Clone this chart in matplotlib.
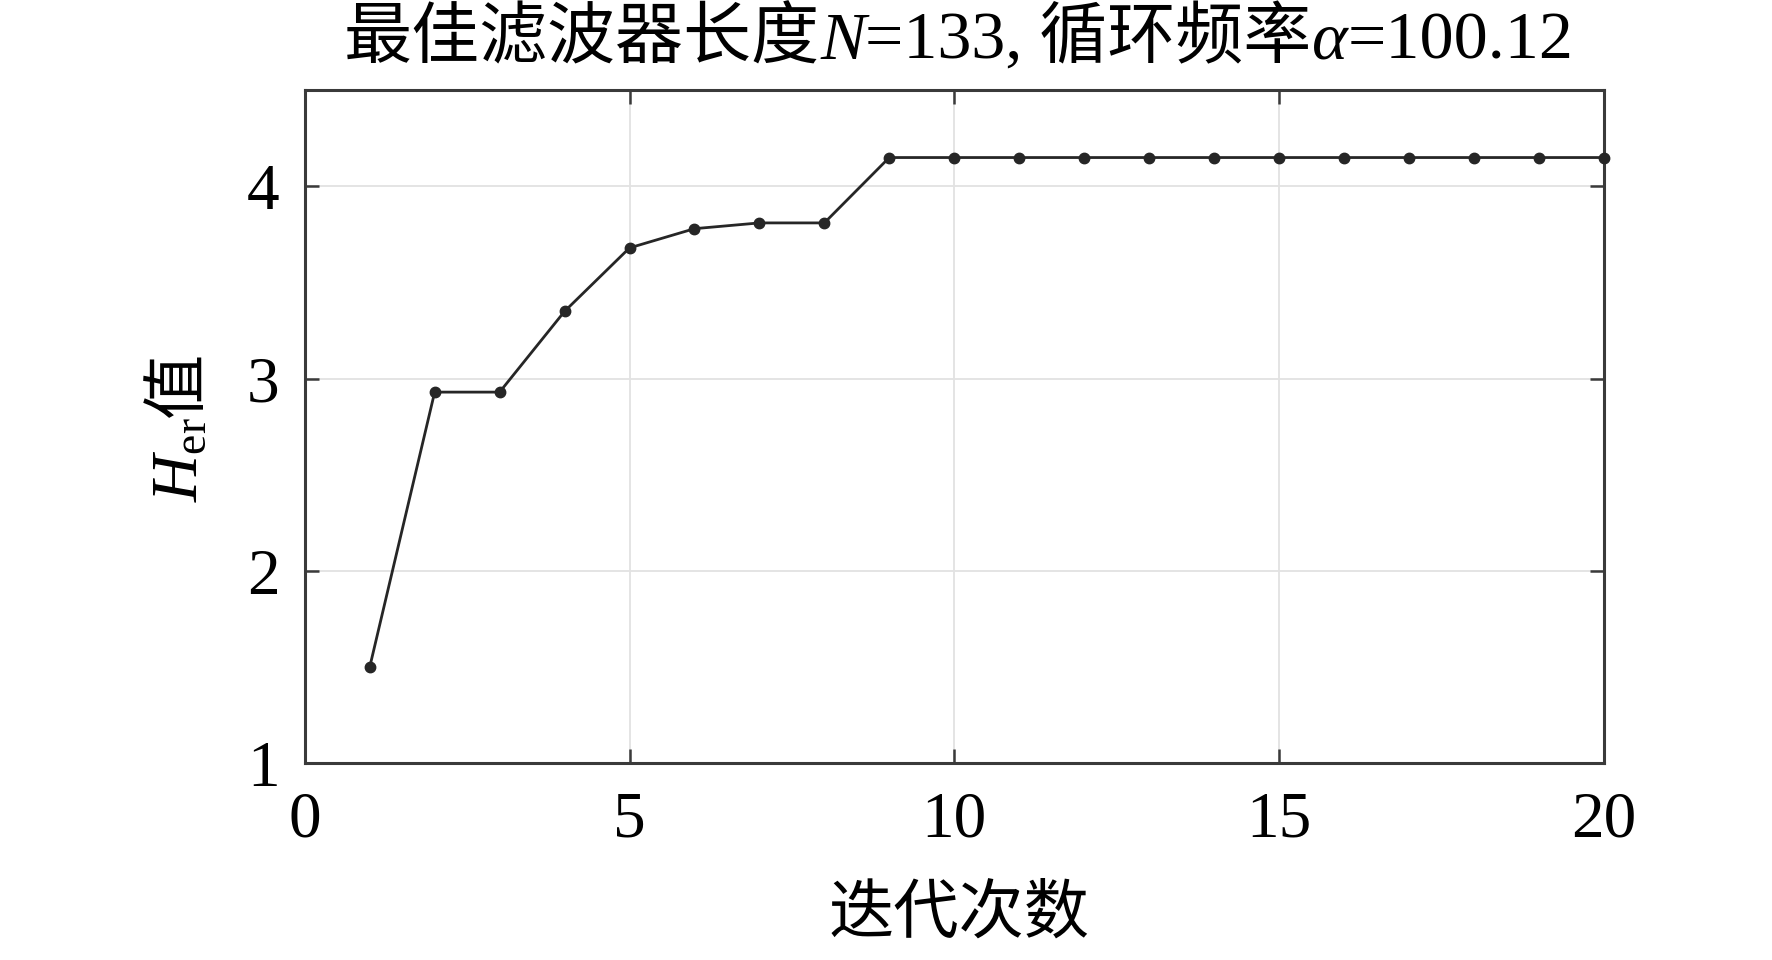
import matplotlib
matplotlib.use('Agg')
import matplotlib.pyplot as plt

# iteration data
iterations = list(range(1, 21))
her_values = [1.50, 2.93, 2.93, 3.35, 3.68, 3.78, 3.81, 3.81, 4.15, 4.15,
              4.15, 4.15, 4.15, 4.15, 4.15, 4.15, 4.15, 4.15, 4.15, 4.15]
x_ticks = [0, 5, 10, 15, 20]
y_ticks = [1, 2, 3, 4]

plt.rcParams['font.family'] = ['Liberation Serif', 'Noto Sans CJK SC']
plt.rcParams['mathtext.fontset'] = 'custom'
plt.rcParams['mathtext.rm'] = 'Liberation Serif'
plt.rcParams['mathtext.it'] = 'Liberation Serif:italic'

FS = 47
DARK = '#262626'


def rich_text(fig, x, y, parts, rotation=0, size=FS):
    """Place text pieces one after another, centred on (x, y) along the run."""
    renderer = fig.canvas.get_renderer()
    texts = []
    for s, style in parts:
        t = fig.text(0, 0, s, fontsize=size, fontstyle=style, rotation=rotation,
                     rotation_mode='anchor', ha='left', va='baseline')
        texts.append(t)
    ext = [t.get_window_extent(renderer) for t in texts]
    px, py = fig.transFigure.transform((x, y))
    inv = fig.transFigure.inverted()
    if rotation == 0:
        total = sum(b.width for b in ext)
        pos = px - total / 2
        for t, b in zip(texts, ext):
            t.set_position(inv.transform((pos, py)))
            pos += b.width
    else:
        total = sum(b.height for b in ext)
        pos = py - total / 2
        for t, b in zip(texts, ext):
            t.set_position(inv.transform((px, pos)))
            pos += b.height


fig = plt.figure(figsize=(17.72, 9.6), dpi=100)
ax = fig.add_axes([0.172, 0.205, 0.733, 0.701])

ax.plot(iterations, her_values, color=DARK, lw=2.0, marker='o', ms=7.5,
        mfc=DARK, mec=DARK, clip_on=False, zorder=3)

ax.set_xlim(0, 20)
ax.set_ylim(1, 4.5)
ax.set_xticks(x_ticks)
ax.set_yticks(y_ticks)
ax.grid(True, color='#e2e2e2', lw=1.3)
ax.set_axisbelow(True)
ax.tick_params(direction='in', length=10, width=1.8, color='#3a3a3a',
               labelsize=FS, top=True, right=True)
ax.tick_params(axis='x', pad=20)
ax.tick_params(axis='y', pad=18)
for sp in ax.spines.values():
    sp.set_color('#3a3a3a')
    sp.set_linewidth(2.2)

fig.canvas.draw()
rich_text(fig, 0.541, 0.939, [('最佳滤波器长度', 'normal'), ('N', 'italic'),
                              ('=133, 循环频率', 'normal'), ('α', 'italic'),
                              ('=100.12', 'normal')], size=49)
fig.text(0.541, 0.045, '迭代次数', fontsize=FS, ha='center', va='center')
rich_text(fig, 0.111, 0.555, [(r'$H_{\mathrm{er}}$', 'normal'), ('值', 'normal')],
          rotation=90)

plt.savefig('out.png', dpi=100)
